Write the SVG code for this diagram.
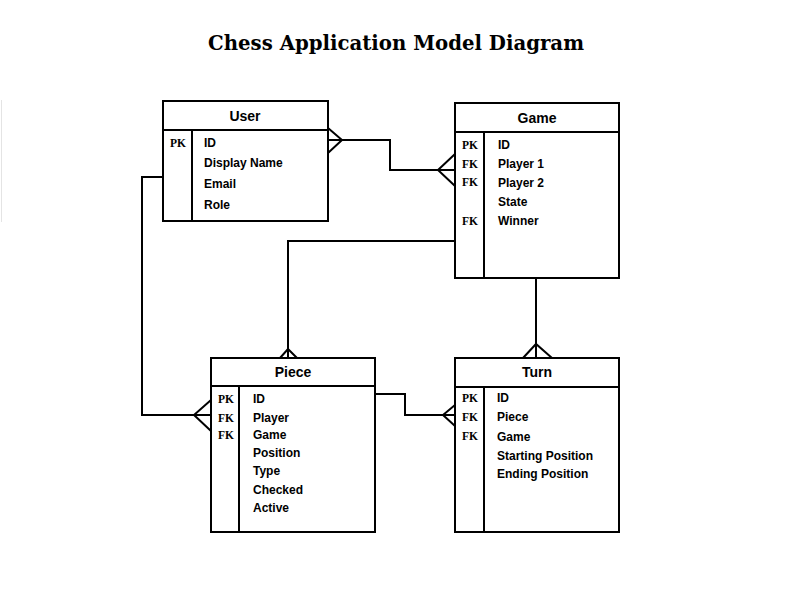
<svg xmlns="http://www.w3.org/2000/svg" width="792" height="612" viewBox="0 0 792 612">
<style>
.box{fill:#fff;stroke:#000;stroke-width:2}
.ln{fill:none;stroke:#000;stroke-width:2}
.hd{font-family:"Liberation Sans",Arial,sans-serif;font-weight:bold;font-size:14px;text-anchor:middle}
.f{font-family:"Liberation Sans",Arial,sans-serif;font-weight:bold;font-size:12px}
.k{font-family:"Liberation Serif","Times New Roman",serif;font-weight:bold;font-size:11.5px}
.t{font-family:"DejaVu Serif","Liberation Serif",serif;font-weight:bold;font-size:21px;text-anchor:middle}
</style>
<rect width="792" height="612" fill="#fff"/>
<line x1="1.5" y1="100" x2="1.5" y2="222" stroke="#e4e4e4" stroke-width="1"/>
<text class="t" x="396" y="50" textLength="376" lengthAdjust="spacingAndGlyphs">Chess Application Model Diagram</text>
<g id="connectors" class="ln">
<polyline points="328,140 390,140 390,170 455,170"/>
<polyline points="328,128 342,140 328,153"/>
<polyline points="455,154 438,170 455,186"/>
<polyline points="455,241 288,241 288,358"/>
<polyline points="280,358 288,349 297,358"/>
<polyline points="163,177 142,177 142,415 211,415"/>
<polyline points="211,400 194,415 211,431"/>
<polyline points="375,394 405,394 405,415 455,415"/>
<polyline points="455,405 443,415 455,426"/>
<line x1="536" y1="278" x2="536" y2="358"/>
<polyline points="523,358 536,344 552,358"/>
</g>
<g id="user">
<rect class="box" x="163" y="101" width="165" height="120"/>
<line class="ln" x1="163" y1="130" x2="328" y2="130"/>
<line class="ln" x1="192" y1="130" x2="192" y2="221"/>
<text class="hd" x="245" y="121">User</text>
<text class="k" x="170" y="147">PK</text>
<text class="f" x="204" y="147">ID</text>
<text class="f" x="204" y="167">Display Name</text>
<text class="f" x="204" y="188">Email</text>
<text class="f" x="204" y="209">Role</text>
</g>
<g id="game">
<rect class="box" x="455" y="103" width="164" height="175"/>
<line class="ln" x1="455" y1="132" x2="619" y2="132"/>
<line class="ln" x1="484" y1="132" x2="484" y2="278"/>
<text class="hd" x="537" y="123">Game</text>
<text class="k" x="462" y="149">PK</text>
<text class="k" x="462" y="168">FK</text>
<text class="k" x="462" y="186">FK</text>
<text class="k" x="462" y="225">FK</text>
<text class="f" x="498" y="149">ID</text>
<text class="f" x="498" y="168">Player 1</text>
<text class="f" x="498" y="187">Player 2</text>
<text class="f" x="498" y="206">State</text>
<text class="f" x="498" y="225">Winner</text>
</g>
<g id="piece">
<rect class="box" x="211" y="358" width="164" height="174"/>
<line class="ln" x1="211" y1="386" x2="375" y2="386"/>
<line class="ln" x1="239" y1="386" x2="239" y2="532"/>
<text class="hd" x="293" y="377">Piece</text>
<text class="k" x="218" y="403">PK</text>
<text class="k" x="218" y="422">FK</text>
<text class="k" x="218" y="439">FK</text>
<text class="f" x="253" y="403">ID</text>
<text class="f" x="253" y="422">Player</text>
<text class="f" x="253" y="439">Game</text>
<text class="f" x="253" y="457">Position</text>
<text class="f" x="253" y="475">Type</text>
<text class="f" x="253" y="494">Checked</text>
<text class="f" x="253" y="512">Active</text>
</g>
<g id="turn">
<rect class="box" x="455" y="358" width="164" height="174"/>
<line class="ln" x1="455" y1="387" x2="619" y2="387"/>
<line class="ln" x1="484" y1="387" x2="484" y2="532"/>
<text class="hd" x="537" y="377">Turn</text>
<text class="k" x="462" y="402">PK</text>
<text class="k" x="462" y="421">FK</text>
<text class="k" x="462" y="440">FK</text>
<text class="f" x="497" y="402">ID</text>
<text class="f" x="497" y="421">Piece</text>
<text class="f" x="497" y="441">Game</text>
<text class="f" x="497" y="460">Starting Position</text>
<text class="f" x="497" y="478">Ending Position</text>
</g>
</svg>
